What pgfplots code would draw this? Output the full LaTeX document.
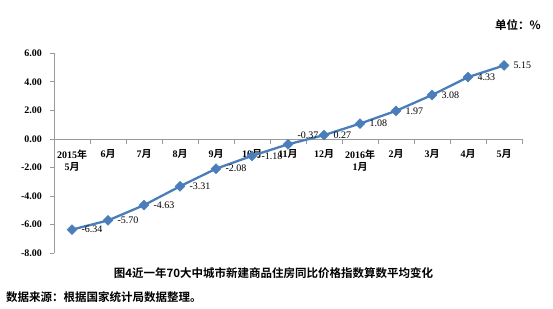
\documentclass[border=0pt]{standalone}
\usepackage{pgfplots}
\usepackage{pgfplotstable}
\pgfplotsset{compat=1.18}
\usepackage{fontspec}
\setmainfont{Liberation Serif}
\newfontfamily\cjk{Noto Sans CJK SC}[BoldFont={Noto Sans CJK SC Bold}]
\definecolor{lineblue}{HTML}{4A7EBB}
\definecolor{axgray}{HTML}{9A9A9A}
\pgfplotstableread{
x y dy
0 -6.34 0
1 -5.70 0
2 -4.63 0
3 -3.31 0
4 -2.08 0
5 -1.18 0
6 -0.37 9
7 0.27 0
8 1.08 0
9 1.97 0
10 3.08 0
11 4.33 0
12 5.15 0
}\datatable
\begin{document}
\begin{tikzpicture}
\useasboundingbox (0,0) rectangle (553pt,308pt);
\begin{axis}[
  at={(54pt,54.7pt)}, anchor=south west,
  scale only axis, width=468pt, height=200pt,
  xmin=-0.5, xmax=12.5, ymin=-8, ymax=6,
  axis x line=middle, axis y line=left,
  axis line style={draw=axgray, -, line width=0.7pt},
  hide obscured x ticks=false, hide obscured y ticks=false,
  xtick={-0.5,0.5,...,12.5},
  xticklabels={},
  every tick/.style={draw=axgray, line width=0.8pt},
  extra x ticks={0,...,12},
  extra x tick labels={{2015{\cjk 年}\\5{\cjk 月}},6{\cjk 月},7{\cjk 月},8{\cjk 月},9{\cjk 月},10{\cjk 月},11{\cjk 月},12{\cjk 月},{2016{\cjk 年}\\1{\cjk 月}},2{\cjk 月},3{\cjk 月},4{\cjk 月},5{\cjk 月}},
  extra x tick style={major tick length=0pt},
  ytick={-8,-6,...,6},
  major tick length=4.5pt,
  xtick align=outside, ytick align=outside,
  xticklabel style={font=\bfseries\fontsize{10}{12}\selectfont, align=center, yshift=-7pt},
  yticklabel style={font=\bfseries\fontsize{10}{12}\selectfont, xshift=-4pt},
  /pgf/number format/.cd, fixed, fixed zerofill, precision=2, assume math mode=true, /pgfplots/.cd,
  clip=false,
]
\addplot[color=lineblue, line width=2.3pt, mark=square*, mark size=3.5pt,
  mark options={rotate=45, fill=lineblue, draw=lineblue, line width=0.5pt},
  point meta=y,
  visualization depends on={\thisrow{dy} \as \dy},
  nodes near coords,
  nodes near coords style={anchor=west, xshift=6pt, yshift=\dy pt, text=black, font=\fontsize{10}{12}\selectfont},
] table[x=x, y=y] {\datatable};
\end{axis}
\node[font=\cjk\bfseries\fontsize{11.5}{13}\selectfont, anchor=center] at (273.5pt,35pt) {图4近一年70大中城市新建商品住房同比价格指数算数平均变化};
\node[font=\cjk\bfseries\fontsize{11.5}{13}\selectfont, anchor=west, inner sep=0pt] at (6pt,11pt) {数据来源：根据国家统计局数据整理。};
\node[font=\cjk\bfseries\fontsize{11.5}{13}\selectfont, anchor=east, inner sep=0pt] at (541pt,283pt) {单位：\%};
\end{tikzpicture}
\end{document}
